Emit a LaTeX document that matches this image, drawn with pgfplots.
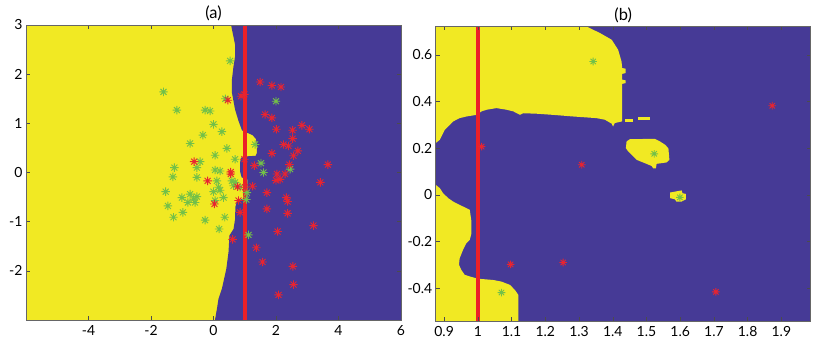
\documentclass[border=0pt]{standalone}
\usepackage{fontspec}
\setmainfont{Lato}
\usepackage{pgfplots}
\pgfplotsset{compat=1.18}

\definecolor{pyel}{RGB}{241,233,35}
\definecolor{pblu}{RGB}{70,58,150}
\definecolor{pred}{RGB}{236,32,40}
\definecolor{mred}{RGB}{232,36,48}
\definecolor{mgrn}{RGB}{115,192,72}

% eight-armed asterisk, like the MATLAB '*' marker
\pgfdeclareplotmark{ast8}{%
  \pgfpathmoveto{\pgfqpoint{-\pgfplotmarksize}{0pt}}%
  \pgfpathlineto{\pgfqpoint{\pgfplotmarksize}{0pt}}%
  \pgfpathmoveto{\pgfqpoint{0pt}{-\pgfplotmarksize}}%
  \pgfpathlineto{\pgfqpoint{0pt}{\pgfplotmarksize}}%
  \pgfpathmoveto{\pgfqpoint{-.707\pgfplotmarksize}{-.707\pgfplotmarksize}}%
  \pgfpathlineto{\pgfqpoint{.707\pgfplotmarksize}{.707\pgfplotmarksize}}%
  \pgfpathmoveto{\pgfqpoint{-.707\pgfplotmarksize}{.707\pgfplotmarksize}}%
  \pgfpathlineto{\pgfqpoint{.707\pgfplotmarksize}{-.707\pgfplotmarksize}}%
  \pgfusepathqstroke}

\pgfplotsset{
  panel/.style={
    scale only axis, anchor=south west,
    axis background/.style={fill=pyel},
    axis on top,
    axis line style={draw=black!60, line width=0.6bp},
    tick style={draw=black!70, line width=0.5bp},
    major tick length=4bp,
    ticklabel style={font=\fontsize{14}{14}\selectfont},
    xticklabel style={anchor=base, yshift=-15.5bp},
    /pgf/number format/assume math mode=true,
    title style={font=\fontsize{16.5}{17}\selectfont, at={(0.5,1)}, anchor=base, yshift=0.5bp},
  },
  grn/.style={only marks, mark=ast8, mgrn, line width=0.9bp},
  rd/.style={only marks, mark=ast8, mred, line width=0.9bp},
}

\begin{document}
\begin{tikzpicture}
\useasboundingbox (0,0) rectangle (830bp,347bp);

% ---------------- (a) ----------------
\begin{axis}[panel, at={(26bp,27bp)}, width=375bp, height=295bp,
  title={(a)},
  xmin=-6, xmax=6, ymin=-3, ymax=3,
  xtick={-4,-2,0,2,4,6}, ytick={-2,-1,0,1,2,3}]
\addplot[fill=pblu, draw=none] coordinates {
  (0.53,3.1) (0.61,2.85) (0.69,2.6) (0.69,2.36) (0.64,2.16) (0.59,1.89)
  (0.59,1.62) (0.69,1.28) (0.80,1.05) (0.91,0.86) (1.0,0.82) (1.07,0.81)
  (1.25,0.76) (1.36,0.68) (1.39,0.55) (1.39,0.40) (1.35,0.34) (1.1,0.33)
  (1.0,0.33) (0.88,0.30) (0.85,0.20) (0.85,0.02) (0.9,-0.1) (1.08,-0.14)
  (1.08,-0.5) (0.95,-0.53) (0.75,-0.58) (0.70,-0.7) (0.69,-0.95) (0.64,-1.15)
  (0.51,-1.28) (0.48,-1.62) (0.41,-1.96) (0.27,-2.36) (0.16,-2.57) (0.11,-2.77)
  (0.02,-3.1) (6.1,-3.1) (6.1,3.1)
};
\addplot[pred, line width=4.5bp] coordinates {(1,-3.1) (1,3.1)};
\addplot[grn, mark size=4.2bp] coordinates {
  (0.53,2.27) (-1.60,1.64) (-1.17,1.27) (-0.27,1.27) (-0.11,1.25) (0.0,0.98)
  (-0.34,0.76) (0.27,0.83) (-0.75,0.59) (0.43,0.49) (0.05,0.35) (0.69,0.27)
  (-0.43,0.22) (-1.25,0.10) (-0.53,0.10) (0.05,0.05) (0.21,0.03) (-1.30,-0.09)
  (-0.53,-0.10) (0.11,-0.17) (0.59,-0.17) (0.16,-0.30) (-1.53,-0.39) (0.21,-0.36)
  (0.0,-0.39) (-0.75,-0.44) (-1.01,-0.51) (-0.53,-0.49) (-0.64,-0.54) (0.32,-0.51)
  (0.05,-0.57) (-0.82,-0.61) (-0.59,-0.61) (-1.46,-0.68) (-0.98,-0.81) (-1.28,-0.91)
  (0.36,-0.91) (-0.27,-0.97) (0.18,-1.15) (1.12,-1.27) (1.33,0.57) (1.52,0.19)
  (1.60,0.0) (2.0,1.45) (2.45,0.07) (0.38,1.5) (0.64,-0.27) (0.85,-0.30)
  (1.07,-0.41) (1.05,-0.55) (0.69,-0.2)
};
\addplot[rd, mark size=4.2bp] coordinates {
  (0.46,1.47) (1.49,1.84) (1.87,1.77) (2.16,1.74) (0.99,1.59) (0.88,1.55)
  (1.65,1.18) (1.87,1.11) (2.01,0.88) (2.53,0.86) (2.83,0.96) (3.07,0.88)
  (2.53,0.69) (2.24,0.57) (2.40,0.54) (2.70,0.44) (2.56,0.34) (1.87,0.39)
  (0.99,0.27) (1.31,0.14) (2.43,0.16) (3.66,0.16) (2.03,-0.03) (2.29,-0.03)
  (2.0,-0.16) (2.13,-0.14) (3.42,-0.20) (1.25,-0.28) (0.77,-0.29) (1.01,-0.30)
  (1.71,-0.41) (2.33,-0.51) (2.37,-0.59) (0.80,-0.57) (0.85,-0.81) (1.71,-0.74)
  (2.37,-0.83) (3.20,-1.08) (2.05,-1.20) (0.61,-1.36) (1.37,-1.53) (1.57,-1.82)
  (2.54,-1.91) (2.56,-2.28) (2.08,-2.49) (-0.62,0.22) (-0.19,-0.17) (0.55,0.01)
  (0.55,-0.03) (0.03,-0.64)
};
\end{axis}

% ---------------- (b) ----------------
\begin{axis}[panel, at={(435.7bp,26bp)}, width=375bp, height=294.5bp,
  title={(b)},
  axis background/.style={fill=pblu},
  xmin=0.875, xmax=1.987, ymin=-0.541, ymax=0.722,
  xtick={0.9,1,1.1,1.2,1.3,1.4,1.5,1.6,1.7,1.8,1.9},
  ytick={-0.4,-0.2,0,0.2,0.4,0.6}]
% upper left yellow region
\addplot[fill=pyel, draw=none] coordinates {
  (0.86,0.73) (1.30,0.73) (1.322,0.722) (1.362,0.694) (1.397,0.665) (1.416,0.622)
  (1.426,0.572) (1.428,0.544) (1.438,0.541) (1.438,0.522) (1.428,0.519) (1.428,0.494)
  (1.438,0.491) (1.438,0.479) (1.428,0.476) (1.428,0.315) (1.406,0.308) (1.401,0.293)
  (1.397,0.305) (1.377,0.322) (1.352,0.329) (1.283,0.336) (1.223,0.343) (1.174,0.348)
  (1.134,0.350) (1.125,0.343) (1.105,0.358) (1.085,0.365) (1.055,0.372) (1.026,0.365)
  (1.011,0.358) (0.996,0.343) (0.966,0.336) (0.946,0.329) (0.927,0.315) (0.917,0.300)
  (0.902,0.279) (0.887,0.236) (0.875,0.222) (0.86,0.222)
};
\addplot[fill=pyel, draw=none] coordinates {
  (1.436,0.326) (1.461,0.326) (1.461,0.313) (1.436,0.313)};
\addplot[fill=pyel, draw=none] coordinates {
  (1.476,0.332) (1.510,0.332) (1.510,0.322) (1.476,0.322)};
% lower left yellow region
\addplot[fill=pyel, draw=none] coordinates {
  (0.86,0.043) (0.875,0.043) (0.887,0.029) (0.897,0.007) (0.912,-0.014) (0.927,-0.029)
  (0.946,-0.043) (0.966,-0.057) (0.976,-0.064) (0.981,-0.114) (0.981,-0.165)
  (0.976,-0.193) (0.966,-0.207) (0.956,-0.236) (0.946,-0.272) (0.944,-0.300)
  (0.951,-0.322) (0.961,-0.343) (0.976,-0.350) (0.996,-0.358) (1.011,-0.361)
  (1.045,-0.365) (1.070,-0.372) (1.095,-0.386) (1.110,-0.408) (1.120,-0.429)
  (1.120,-0.56) (0.86,-0.56)
};
% islands
\addplot[fill=pyel, draw=none] coordinates {
  (1.441,0.229) (1.451,0.239) (1.525,0.240) (1.540,0.229) (1.555,0.215) (1.565,0.200)
  (1.568,0.150) (1.560,0.139) (1.530,0.133) (1.528,0.114) (1.520,0.114) (1.515,0.124)
  (1.495,0.136) (1.471,0.150) (1.456,0.172) (1.446,0.186) (1.439,0.200)
};
\addplot[fill=pyel, draw=none] coordinates {
  (1.570,0.010) (1.604,0.019) (1.607,0.007) (1.617,0.004) (1.617,-0.019)
  (1.604,-0.029) (1.589,-0.029) (1.584,-0.019) (1.570,-0.014)
};
\addplot[pred, line width=4.5bp] coordinates {(1,-0.6) (1,0.8)};
\addplot[grn, mark size=3.8bp] coordinates {
  (1.342,0.572) (1.523,0.176) (1.599,-0.011) (1.070,-0.419)
};
\addplot[rd, mark size=3.8bp] coordinates {
  (1.011,0.207) (1.308,0.129) (1.873,0.382) (1.097,-0.298) (1.253,-0.290) (1.706,-0.416)
};
\end{axis}
\end{tikzpicture}
\end{document}
